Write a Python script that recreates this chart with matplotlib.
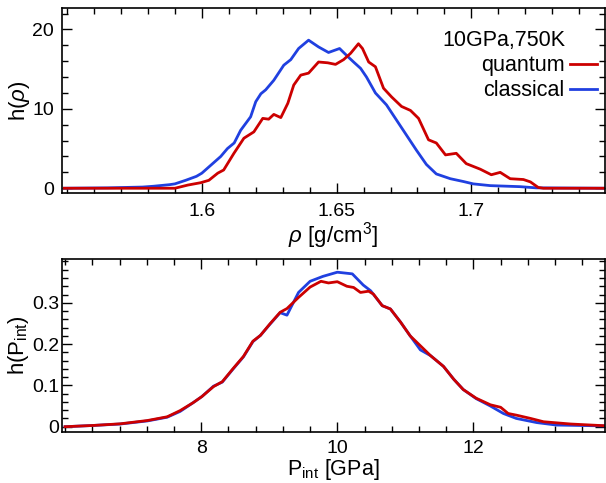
import matplotlib
matplotlib.use("Agg")
import matplotlib.pyplot as plt
from matplotlib.ticker import MultipleLocator

# density histograms h(rho), rho in g/cm^3
RHO_CLASSICAL = [1.549, 1.565, 1.578, 1.582, 1.588, 1.590, 1.594, 1.598, 1.600, 1.607,
                 1.6095, 1.612, 1.6144, 1.6181, 1.620, 1.6219, 1.6237, 1.6267, 1.6304,
                 1.633, 1.6359, 1.6396, 1.6433, 1.6470, 1.6511, 1.6541, 1.6563, 1.6589,
                 1.6611, 1.6644, 1.6685, 1.6722, 1.6759, 1.6796, 1.6833, 1.6870, 1.6922,
                 1.6970, 1.7007, 1.707, 1.718, 1.724, 1.750]
H_CLASSICAL = [0.0, 0.05, 0.15, 0.25, 0.45, 0.55, 1.0, 1.5, 1.9, 4.0,
               5.0, 5.7, 7.3, 9.0, 10.9, 11.9, 12.4, 13.6, 15.5,
               16.2, 17.6, 18.65, 17.8, 17.1, 17.6, 16.6, 15.9, 15.1,
               14.0, 12.0, 10.5, 8.6, 6.7, 4.8, 3.0, 1.8, 1.2,
               0.85, 0.55, 0.33, 0.2, 0.05, 0.0]

RHO_QUANTUM = [1.549, 1.590, 1.5948, 1.5996, 1.6026, 1.6059, 1.6081, 1.6119, 1.6156,
               1.6193, 1.6226, 1.6248, 1.6267, 1.6293, 1.6319, 1.6341, 1.6367, 1.6396,
               1.6433, 1.6467, 1.6496, 1.6526, 1.6552, 1.6581, 1.6596, 1.6619, 1.6644,
               1.6674, 1.6704, 1.6741, 1.6774, 1.6804, 1.6841, 1.6870, 1.6904, 1.6944,
               1.6981, 1.7033, 1.7074, 1.7107, 1.7144, 1.7193, 1.7219, 1.7248, 1.7267,
               1.750]
H_QUANTUM = [0.0, 0.0, 0.4, 0.7, 1.0, 1.9, 2.3, 4.4, 6.3,
             7.1, 8.8, 8.7, 9.3, 8.9, 10.7, 13.0, 14.25, 14.5,
             15.9, 15.8, 15.6, 16.2, 17.0, 18.2, 17.6, 15.9, 15.3,
             12.6, 11.5, 10.3, 9.8, 8.8, 6.1, 5.7, 4.2, 4.4,
             3.1, 2.4, 1.7, 2.0, 1.2, 1.1, 0.8, 0.1, 0.0,
             0.0]

# internal pressure histograms h(P_int), P in GPa
P_CLASSICAL = [6.0, 6.41, 6.81, 7.21, 7.50, 7.69, 7.88, 8.01, 8.18, 8.31, 8.47, 8.62,
               8.76, 8.87, 9.01, 9.16, 9.26, 9.43, 9.60, 9.79, 10.0, 10.22, 10.38,
               10.49, 10.66, 10.78, 10.93, 11.07, 11.22, 11.37, 11.56, 11.71, 11.85,
               12.04, 12.25, 12.44, 12.63, 12.93, 13.22, 13.91]
HP_CLASSICAL = [0.0, 0.003, 0.0065, 0.014, 0.023, 0.037, 0.058, 0.073, 0.098, 0.108,
                0.140, 0.169, 0.206, 0.221, 0.248, 0.276, 0.270, 0.325, 0.352, 0.364,
                0.374, 0.370, 0.343, 0.329, 0.293, 0.285, 0.253, 0.220, 0.186, 0.172,
                0.146, 0.115, 0.090, 0.068, 0.050, 0.032, 0.020, 0.010, 0.004, 0.002]

P_QUANTUM = [6.0, 6.41, 6.81, 7.21, 7.50, 7.69, 7.88, 8.01, 8.18, 8.31, 8.47, 8.62,
             8.76, 8.87, 9.01, 9.16, 9.26, 9.43, 9.60, 9.76, 9.87, 10.0, 10.14, 10.24,
             10.34, 10.46, 10.53, 10.66, 10.78, 10.93, 11.07, 11.22, 11.37, 11.56,
             11.71, 11.85, 12.04, 12.25, 12.40, 12.51, 12.63, 12.84, 13.03, 13.43,
             13.91]
HP_QUANTUM = [0.0, 0.003, 0.007, 0.015, 0.024, 0.039, 0.058, 0.073, 0.097, 0.109,
              0.141, 0.170, 0.207, 0.221, 0.249, 0.277, 0.286, 0.313, 0.338, 0.352,
              0.348, 0.351, 0.340, 0.337, 0.325, 0.328, 0.321, 0.293, 0.285, 0.253,
              0.220, 0.196, 0.172, 0.146, 0.115, 0.090, 0.069, 0.053, 0.047, 0.032,
              0.028, 0.020, 0.012, 0.0065, 0.0025]

RHO_TICKS = [1.6, 1.65, 1.7]
RHO_TICKLABELS = ["1.6", "1.65", "1.7"]
H_TICKS = [0, 10, 20]
P_TICKS = [8, 10, 12]
HP_TICKS = [0, 0.1, 0.2, 0.3]
HP_TICKLABELS = ["0", "0.1", "0.2", "0.3"]

RED = "#cc0000"
BLUE = "#2040e0"

plt.rcParams["font.family"] = ["Liberation Sans", "DejaVu Sans"]
plt.rcParams["font.size"] = 14
plt.rcParams["mathtext.fontset"] = "custom"
plt.rcParams["mathtext.rm"] = "Liberation Sans"
plt.rcParams["mathtext.it"] = "Liberation Sans:italic"


def style_axis(ax, xpad, ypad):
    ax.tick_params(which="both", direction="in", top=True, right=True,
                   width=1.0, labelsize=14)
    ax.tick_params(which="major", length=7)
    ax.tick_params(which="minor", length=4)
    ax.tick_params(axis="x", which="major", pad=xpad)
    ax.tick_params(axis="y", which="major", pad=ypad)
    for sp in ax.spines.values():
        sp.set_linewidth(1.2)


fig = plt.figure(figsize=(6.06, 4.83), dpi=100)
ax1 = fig.add_axes([0.1018, 0.6004, 0.8962, 0.383])
ax2 = fig.add_axes([0.1018, 0.1056, 0.8962, 0.3582])

# top panel: density
ax1.plot(RHO_CLASSICAL, H_CLASSICAL, color=BLUE, lw=2.0)
ax1.plot(RHO_QUANTUM, H_QUANTUM, color=RED, lw=2.0)
ax1.set_xlim(1.548, 1.7495)
ax1.set_ylim(-0.6, 22.7)
ax1.set_xticks(RHO_TICKS)
ax1.set_xticklabels(RHO_TICKLABELS)
ax1.xaxis.set_minor_locator(MultipleLocator(0.01))
ax1.set_yticks(H_TICKS)
ax1.yaxis.set_minor_locator(MultipleLocator(2))
ax1.set_xlabel(r"$\rho$ [g/cm$^3$]", fontsize=16, labelpad=0)
ax1.set_ylabel(r"h($\rho$)", fontsize=16, labelpad=0)
style_axis(ax1, xpad=7, ypad=5.5)

lq, = ax1.plot([], [], color=RED, lw=2.0)
lc, = ax1.plot([], [], color=BLUE, lw=2.0)
ax1.legend([lq, lc], ["quantum", "classical"],
           loc="upper right", bbox_to_anchor=(0.985, 0.745),
           frameon=False, markerfirst=False, handlelength=1.25,
           handletextpad=0.25, labelspacing=0.2, borderpad=0.0,
           borderaxespad=0.0, fontsize=15.5)
ax1.text(0.928, 0.827, "10GPa,750K", transform=ax1.transAxes,
         ha="right", va="center", fontsize=15.5)

# bottom panel: internal pressure
ax2.plot(P_CLASSICAL, HP_CLASSICAL, color=BLUE, lw=2.0)
ax2.plot(P_QUANTUM, HP_QUANTUM, color=RED, lw=2.0)
ax2.set_xlim(5.95, 13.93)
ax2.set_ylim(-0.0128, 0.406)
ax2.set_xticks(P_TICKS)
ax2.xaxis.set_minor_locator(MultipleLocator(0.4))
ax2.set_yticks(HP_TICKS)
ax2.set_yticklabels(HP_TICKLABELS)
ax2.yaxis.set_minor_locator(MultipleLocator(0.02))
ax2.set_xlabel(r"P$_{\rm int}$ [GPa]", fontsize=15.5, labelpad=0)
ax2.set_ylabel(r"h(P$_{\rm int}$)", fontsize=16, labelpad=1)
style_axis(ax2, xpad=5.5, ypad=1.5)

fig.savefig("out.png", dpi=100)
